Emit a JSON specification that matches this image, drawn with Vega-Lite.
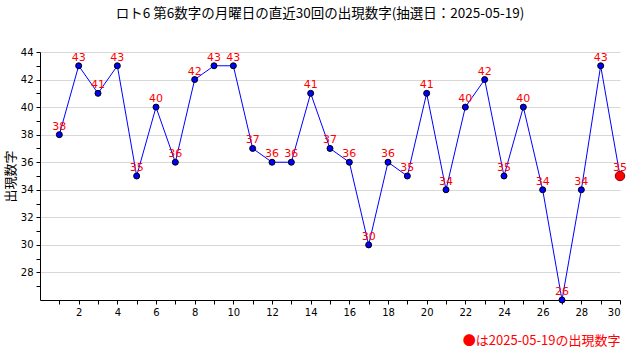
{
  "$schema": "https://vega.github.io/schema/vega-lite/v6.json",
  "width": 580,
  "height": 248,
  "autosize": {"type": "none"},
  "padding": {"left": 40, "top": 52, "right": 20, "bottom": 60},
  "background": "white",
  "title": {
    "text": "ロト6 第6数字の月曜日の直近30回の出現数字(抽選日：2025-05-19)",
    "font": "Noto Sans CJK JP",
    "fontSize": 13.5,
    "fontWeight": "normal",
    "color": "#000000",
    "anchor": "middle",
    "frame": "group",
    "dx": -10,
    "offset": 27
  },
  "data": {
    "values": [
      {"n": 1, "v": 38}, {"n": 2, "v": 43}, {"n": 3, "v": 41}, {"n": 4, "v": 43},
      {"n": 5, "v": 35}, {"n": 6, "v": 40}, {"n": 7, "v": 36}, {"n": 8, "v": 42},
      {"n": 9, "v": 43}, {"n": 10, "v": 43}, {"n": 11, "v": 37}, {"n": 12, "v": 36},
      {"n": 13, "v": 36}, {"n": 14, "v": 41}, {"n": 15, "v": 37}, {"n": 16, "v": 36},
      {"n": 17, "v": 30}, {"n": 18, "v": 36}, {"n": 19, "v": 35}, {"n": 20, "v": 41},
      {"n": 21, "v": 34}, {"n": 22, "v": 40}, {"n": 23, "v": 42}, {"n": 24, "v": 35},
      {"n": 25, "v": 40}, {"n": 26, "v": 34}, {"n": 27, "v": 26}, {"n": 28, "v": 34},
      {"n": 29, "v": 43}, {"n": 30, "v": 35}
    ]
  },
  "encoding": {
    "x": {
      "field": "n",
      "type": "quantitative",
      "scale": {"domain": [0, 30], "nice": false, "zero": false},
      "axis": {
        "values": [1,2,3,4,5,6,7,8,9,10,11,12,13,14,15,16,17,18,19,20,21,22,23,24,25,26,27,28,29,30],
        "labelExpr": "datum.value % 2 == 0 ? datum.label : ''",
        "grid": false,
        "domainColor": "#000000",
        "tickColor": "#000000",
        "tickSize": 4,
        "labelColor": "#000000",
        "labelFont": "DejaVu Sans",
        "labelFontSize": 10,
        "labelPadding": 3,
        "title": "●は2025-05-19の出現数字",
        "titleColor": "#ff0000",
        "titleFont": "Noto Sans CJK JP",
        "titleFontSize": 13,
        "titleFontWeight": "normal",
        "titleAnchor": "end",
        "titleAlign": "right",
        "titlePadding": 17
      }
    },
    "y": {
      "field": "v",
      "type": "quantitative",
      "scale": {"domain": [26, 44], "nice": false, "zero": false},
      "axis": {
        "values": [27,28,29,30,31,32,33,34,35,36,37,38,39,40,41,42,43,44],
        "labelExpr": "datum.value % 2 == 0 ? datum.label : ''",
        "grid": true,
        "gridColor": "#d8d8d8",
        "gridOpacity": {"condition": {"test": "datum.value % 2 == 1", "value": 0}, "value": 1},
        "domainColor": "#000000",
        "tickColor": "#000000",
        "tickSize": 4,
        "labelColor": "#000000",
        "labelFont": "DejaVu Sans",
        "labelFontSize": 10,
        "labelPadding": 3,
        "title": "出現数字",
        "titleFont": "Noto Sans CJK JP",
        "titleFontSize": 13,
        "titleFontWeight": "normal",
        "titleColor": "#000000",
        "titlePadding": 3
      }
    }
  },
  "layer": [
    {"mark": {"type": "line", "color": "#0000ff", "strokeWidth": 1}},
    {
      "transform": [{"filter": "datum.n < 30"}],
      "mark": {"type": "point", "filled": true, "fill": "#0000ff", "stroke": "#000000", "strokeWidth": 1, "size": 36, "opacity": 1}
    },
    {
      "transform": [{"filter": "datum.n == 30"}],
      "mark": {"type": "point", "filled": true, "fill": "#ff0000", "stroke": "#800000", "strokeWidth": 1, "size": 90, "opacity": 1}
    },
    {
      "mark": {"type": "text", "color": "#ff0000", "font": "DejaVu Sans", "fontSize": 11, "baseline": "bottom", "dy": -3},
      "encoding": {"text": {"field": "v", "type": "quantitative"}}
    }
  ],
  "config": {"view": {"stroke": null}}
}
